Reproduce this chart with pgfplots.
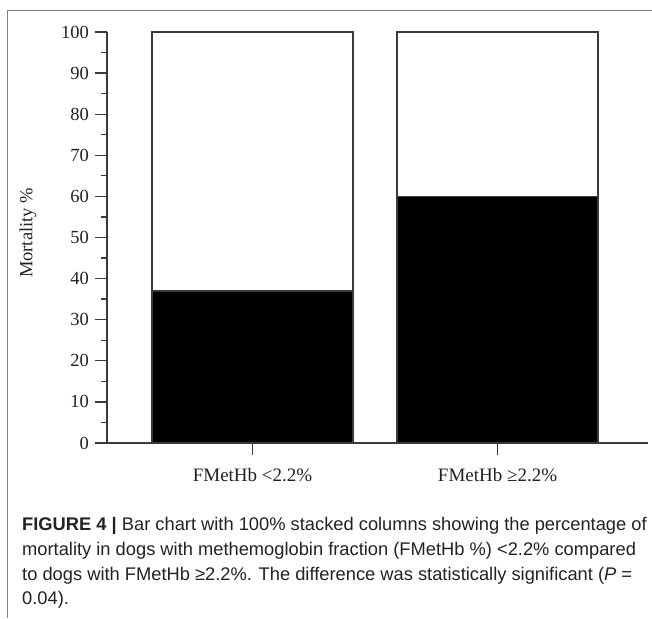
\documentclass[border=0pt]{standalone}
\usepackage{fontspec}
\setmainfont{Liberation Serif}
\newfontfamily\capfont{Liberation Sans}
\usepackage{pgfplots}
\pgfplotsset{compat=1.18}
\definecolor{axgray}{HTML}{3A3A3A}
\definecolor{framegray}{HTML}{808080}
\definecolor{captext}{HTML}{222222}
\begin{document}
\begin{tikzpicture}[x=1pt,y=1pt]
\path[use as bounding box] (0,0) rectangle (652,618);
\draw[framegray, line width=1.2pt] (7.3,0) -- (7.3,607.5) -- (652,607.5);
\begin{axis}[
  at={(107pt,175pt)}, anchor=south west,
  scale only axis, width=541pt, height=411pt,
  xmin=-0.594, xmax=1.614, ymin=0, ymax=100,
  axis x line*=bottom, axis y line*=left,
  axis line style={draw=axgray, line width=1.3pt, -},
  ybar stacked, bar width=201pt,
  xtick={0,1}, xticklabels={FMetHb <2.2\%, FMetHb ≥2.2\%},
  ytick={0,10,...,100}, minor y tick num=1,
  tick align=outside, major tick length=12pt, minor tick length=6pt,
  tick style={axgray, line width=1.3pt},
  tick label style={text=captext},
  yticklabel style={font=\fontsize{18.5}{20}\selectfont, xshift=-2.5pt},
  xticklabel style={font=\fontsize{19}{21}\selectfont, yshift=-10pt},
  /pgf/number format/assume math mode=true,
  clip=false,
]
\addplot[fill=black, draw=axgray, line width=1.3pt] coordinates {(0,37) (1,60)};
\addplot[fill=white, draw=axgray, line width=1.3pt] coordinates {(0,63) (1,40)};
\end{axis}
\node[rotate=90, font=\fontsize{18.5}{20}\selectfont, text=captext] at (28,385) {Mortality \%};
\begin{scope}[every node/.style={anchor=base west, inner sep=0pt, font=\capfont\fontsize{18.3}{20}\selectfont, text=captext}]
\node at (22,87.3) {\textbf{FIGURE 4 |} Bar chart with 100\% stacked columns showing the percentage of};
\node at (22,62.7) {mortality in dogs with methemoglobin fraction (FMetHb \%) <2.2\% compared};
\node at (22,38) {to dogs with FMetHb ≥2.2\%. The difference was statistically significant (\textit{P} =};
\node at (22,13.5) {0.04).};
\end{scope}
\end{tikzpicture}
\end{document}
